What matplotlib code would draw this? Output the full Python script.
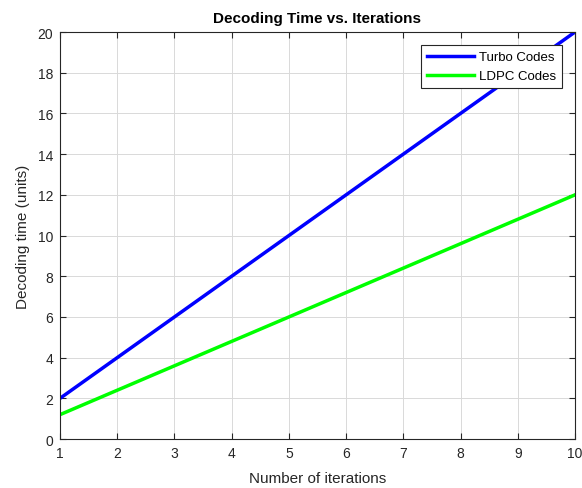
import matplotlib

matplotlib.use("Agg")
import matplotlib.pyplot as plt

iterations = [1, 2, 3, 4, 5, 6, 7, 8, 9, 10]
turbo_time = [2, 4, 6, 8, 10, 12, 14, 16, 18, 20]
ldpc_time = [1.2, 2.4, 3.6, 4.8, 6.0, 7.2, 8.4, 9.6, 10.8, 12.0]
x_ticks = [1, 2, 3, 4, 5, 6, 7, 8, 9, 10]
y_ticks = [0, 2, 4, 6, 8, 10, 12, 14, 16, 18, 20]

plt.rcParams["font.family"] = ["Liberation Sans", "DejaVu Sans"]

fig = plt.figure(figsize=(5.82, 4.89), dpi=100)
ax = fig.add_axes([0.103, 0.100, 0.885, 0.8325])

ax.plot(iterations, turbo_time, color="#0000ff", linewidth=2.5, label="Turbo Codes")
ax.plot(iterations, ldpc_time, color="#00ff00", linewidth=2.5, label="LDPC Codes")

ax.set_xlim(1, 10)
ax.set_ylim(0, 20)
ax.set_xticks(x_ticks)
ax.set_yticks(y_ticks)
ax.tick_params(direction="in", top=True, right=True, labelsize=10,
               labelcolor="#262626", color="#262626", length=4, pad=5)
ax.grid(True, color="#d9d9d9", linewidth=0.7)
for spine in ax.spines.values():
    spine.set_color("#262626")
    spine.set_linewidth(0.8)

ax.set_xlabel("Number of iterations", fontsize=11, color="#262626", labelpad=8)
ax.set_ylabel("Decoding time (units)", fontsize=11, color="#262626", labelpad=5)
ax.set_title("Decoding Time vs. Iterations", fontsize=11, fontweight="bold", pad=7)

leg = ax.legend(loc="upper right", fontsize=9.5, fancybox=False, framealpha=1,
                edgecolor="#262626", borderaxespad=1.0, handlelength=3.6,
                borderpad=0.45, labelspacing=0.5, handletextpad=0.35)
leg.get_frame().set_linewidth(0.8)

fig.savefig("out.png", dpi=100)
